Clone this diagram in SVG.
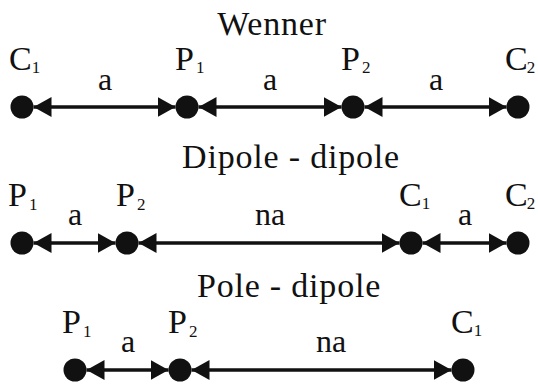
<svg xmlns="http://www.w3.org/2000/svg" width="538" height="387" viewBox="0 0 538 387">
<style>
.title{font-size:34px;text-anchor:middle;letter-spacing:0.8px;}
.lab{font-size:34px;}
.sub{font-size:17px;}
.dist{font-size:32px;text-anchor:middle;}
.dot{fill:#111;}
.ln{stroke:#111;stroke-width:3.5;fill:none;marker-start:url(#ah);marker-end:url(#ah);}
</style>
<defs>
<marker id="ah" markerUnits="userSpaceOnUse" markerWidth="18" markerHeight="20" refX="18" refY="10" orient="auto-start-reverse" viewBox="0 0 18 20">
<path d="M0,0 L18,10 L0,20 Z" fill="#111"/>
</marker>
</defs>
<rect width="538" height="387" fill="#fff"/>
<g font-family="Liberation Serif, Times New Roman, Times, Nimbus Roman, FreeSerif, DejaVu Serif, serif" fill="#111">
<g id="titles">
<text class="title" x="272" y="35">Wenner</text>
<text class="title" x="291" y="168">Dipole - dipole</text>
<text class="title" x="289" y="297">Pole - dipole</text>
</g>
<g id="connectors">
<line class="ln" x1="33.5" y1="107" x2="175.5" y2="107"/>
<line class="ln" x1="198.5" y1="107" x2="341.5" y2="107"/>
<line class="ln" x1="364.5" y1="107" x2="506.5" y2="107"/>
<line class="ln" x1="33.5" y1="243" x2="115.5" y2="243"/>
<line class="ln" x1="138.5" y1="243" x2="399.5" y2="243"/>
<line class="ln" x1="422.5" y1="243" x2="506.5" y2="243"/>
<line class="ln" x1="86.5" y1="370" x2="168.5" y2="370"/>
<line class="ln" x1="191.5" y1="370" x2="451.5" y2="370"/>
</g>
<g id="dist-labels">
<text class="dist" x="105" y="90">a</text>
<text class="dist" x="270" y="90">a</text>
<text class="dist" x="436" y="90">a</text>
<text class="dist" x="75" y="225">a</text>
<text class="dist" x="270" y="225">na</text>
<text class="dist" x="465" y="225">a</text>
<text class="dist" x="128" y="352">a</text>
<text class="dist" x="331" y="352">na</text>
</g>
<g id="wenner-C1"><circle class="dot" cx="22" cy="107" r="11.5"/><text class="lab" x="9" y="70">C<tspan class="sub" dx="0" dy="3">1</tspan></text></g>
<g id="wenner-P1"><circle class="dot" cx="187" cy="107" r="11.5"/><text class="lab" x="175" y="70">P<tspan class="sub" dx="2" dy="3">1</tspan></text></g>
<g id="wenner-P2"><circle class="dot" cx="353" cy="107" r="11.5"/><text class="lab" x="341" y="70">P<tspan class="sub" dx="2" dy="3">2</tspan></text></g>
<g id="wenner-C2"><circle class="dot" cx="518" cy="107" r="11.5"/><text class="lab" x="505" y="70">C<tspan class="sub" dx="-1" dy="3">2</tspan></text></g>
<g id="dd-P1"><circle class="dot" cx="22" cy="243" r="11.5"/><text class="lab" x="8" y="206">P<tspan class="sub" dx="2" dy="4">1</tspan></text></g>
<g id="dd-P2"><circle class="dot" cx="127" cy="243" r="11.5"/><text class="lab" x="116" y="206">P<tspan class="sub" dx="2" dy="4">2</tspan></text></g>
<g id="dd-C1"><circle class="dot" cx="411" cy="243" r="11.5"/><text class="lab" x="399" y="206">C<tspan class="sub" dx="0" dy="3">1</tspan></text></g>
<g id="dd-C2"><circle class="dot" cx="518" cy="243" r="11.5"/><text class="lab" x="505" y="206">C<tspan class="sub" dx="-1" dy="3">2</tspan></text></g>
<g id="pd-P1"><circle class="dot" cx="75" cy="370" r="11.5"/><text class="lab" x="62" y="333">P<tspan class="sub" dx="2" dy="4">1</tspan></text></g>
<g id="pd-P2"><circle class="dot" cx="180" cy="370" r="11.5"/><text class="lab" x="168" y="333">P<tspan class="sub" dx="2" dy="4">2</tspan></text></g>
<g id="pd-C1"><circle class="dot" cx="463" cy="370" r="11.5"/><text class="lab" x="451" y="333">C<tspan class="sub" dx="0" dy="3">1</tspan></text></g>
</g>
</svg>
